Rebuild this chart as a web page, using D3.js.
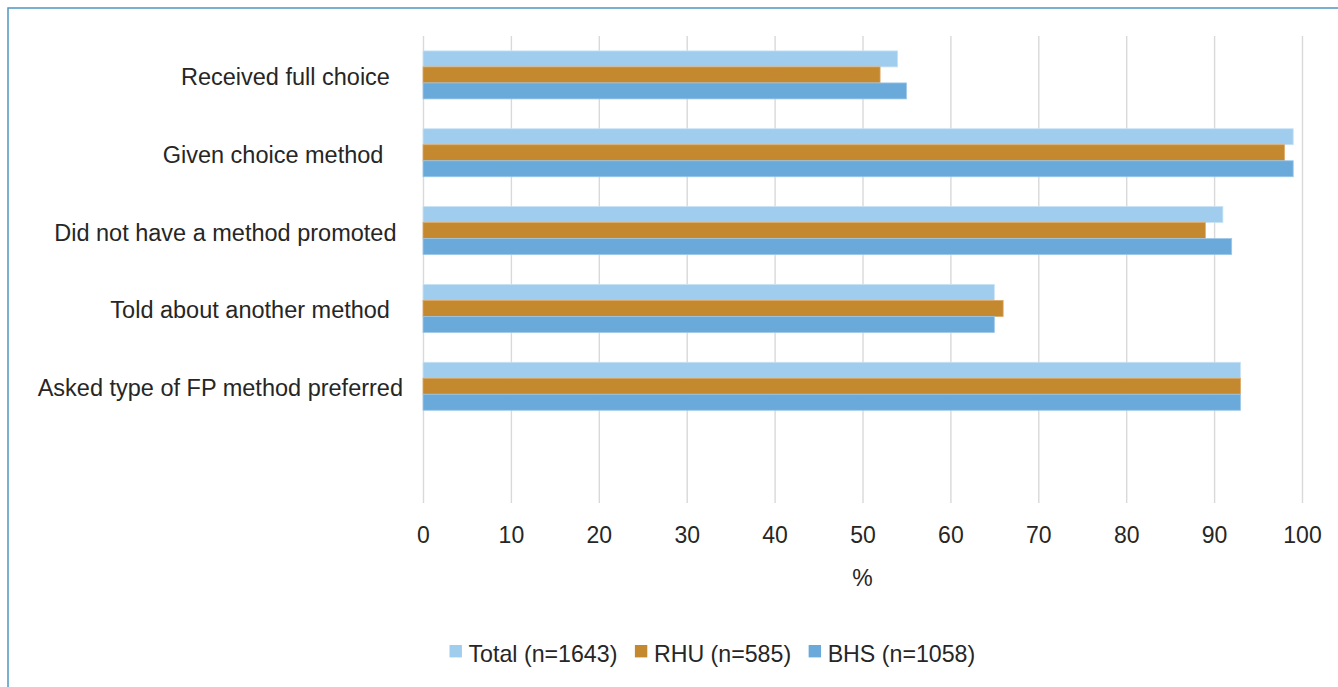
<html>
  <head>
    <style>
      body {
        margin: 0;
        background: #fff;
        font-family: "Liberation Sans", Arial, Helvetica, sans-serif;
      }
      svg {
        display: block;
      }
      .cat-label {
        font-size: 23.5px;
        fill: #262626;
        text-anchor: end;
        white-space: pre;
      }
      .legend-label {
        font-size: 23.2px;
        fill: #262626;
      }
    </style>
  </head>
  <body>
    <script src="https://cdn.jsdelivr.net/npm/d3@7"></script>
    <script>
      // labels keep the trailing spaces from the source sheet
      const categories = [
        "Received full choice  ",
        "Given choice method   ",
        "Did not have a method promoted ",
        "Told about another method  ",
        "Asked type of FP method preferred",
      ];
      const seriesNames = ["Total (n=1643)", "RHU (n=585)", "BHS (n=1058)"];
      const totalValues = [54, 99, 91, 65, 93];
      const rhuValues = [52, 98, 89, 66, 93];
      const bhsValues = [55, 99, 92, 65, 93];
      const xTicks = [0, 10, 20, 30, 40, 50, 60, 70, 80, 90, 100];
      const xTitle = "%";

      const colors = ["#a0cdee", "#c4882f", "#6aaadb"];
      const borders = ["#c8e3f6", "#dca865", "#9cc7e8"];

      const width = 1338,
        height = 687;
      const plotTop = 36,
        plotBottom = 503;

      const svg = d3
        .select("body")
        .append("svg")
        .attr("width", width)
        .attr("height", height);

      // frame (only left and top edges fall inside the picture)
      svg
        .append("path")
        .attr("d", `M8,${height + 5}V8H${width + 5}`)
        .attr("fill", "none")
        .attr("stroke", "#4d97c3")
        .attr("stroke-width", 1.5);

      const x = d3.scaleLinear().domain([0, 100]).range([423, 1302]);

      // an empty sixth slot sits below the last category, as in the source
      const y = d3
        .scaleBand()
        .domain([...categories, ""])
        .range([plotTop, plotBottom])
        .paddingInner(0.383)
        .paddingOuter(0.383 / 2);

      const ySub = d3
        .scaleBand()
        .domain(seriesNames)
        .range([0, y.bandwidth()]);

      // gridlines + tick labels
      const xAxis = svg
        .append("g")
        .attr("transform", `translate(0,${plotBottom})`)
        .call(
          d3
            .axisBottom(x)
            .tickValues(xTicks)
            .tickSize(-(plotBottom - plotTop))
            .tickPadding(23.5)
        );
      xAxis.select(".domain").remove();
      xAxis
        .selectAll(".tick line")
        .attr("stroke", "#d9d9d9")
        .attr("stroke-width", 1.4);
      xAxis
        .selectAll(".tick text")
        .attr("font-size", 23)
        .attr("font-family", "Liberation Sans, Arial, sans-serif")
        .attr("fill", "#262626");

      svg
        .append("text")
        .attr("x", x(50))
        .attr("y", 586)
        .attr("text-anchor", "middle")
        .attr("font-size", 23)
        .attr("fill", "#262626")
        .text(xTitle);

      // bars
      const seriesValues = [totalValues, rhuValues, bhsValues];
      seriesNames.forEach((name, si) => {
        svg
          .append("g")
          .selectAll("rect")
          .data(seriesValues[si])
          .join("rect")
          .attr("x", x(0))
          .attr("y", (d, i) => y(categories[i]) + ySub(name))
          .attr("width", (d) => x(d) - x(0))
          .attr("height", ySub.bandwidth())
          .attr("fill", colors[si])
          .attr("stroke", borders[si])
          .attr("stroke-width", 0.8);
      });

      // category labels
      svg
        .append("g")
        .selectAll("text")
        .data(categories)
        .join("text")
        .attr("class", "cat-label")
        .attr("x", 403)
        .attr("y", (d) => y(d) + y.bandwidth() / 2 + 10)
        .text((d) => d);

      // legend
      const legend = svg.append("g").attr("transform", "translate(449.5,645)");
      let lx = 0;
      seriesNames.forEach((name, si) => {
        const item = legend.append("g").attr("transform", `translate(${lx},0)`);
        item
          .append("rect")
          .attr("width", 12.4)
          .attr("height", 12.4)
          .attr("fill", colors[si]);
        const t = item
          .append("text")
          .attr("class", "legend-label")
          .attr("x", 19)
          .attr("y", 16.5)
          .text(name);
        lx += 19 + t.node().getComputedTextLength() + 17.5;
      });
    </script>
  </body>
</html>
